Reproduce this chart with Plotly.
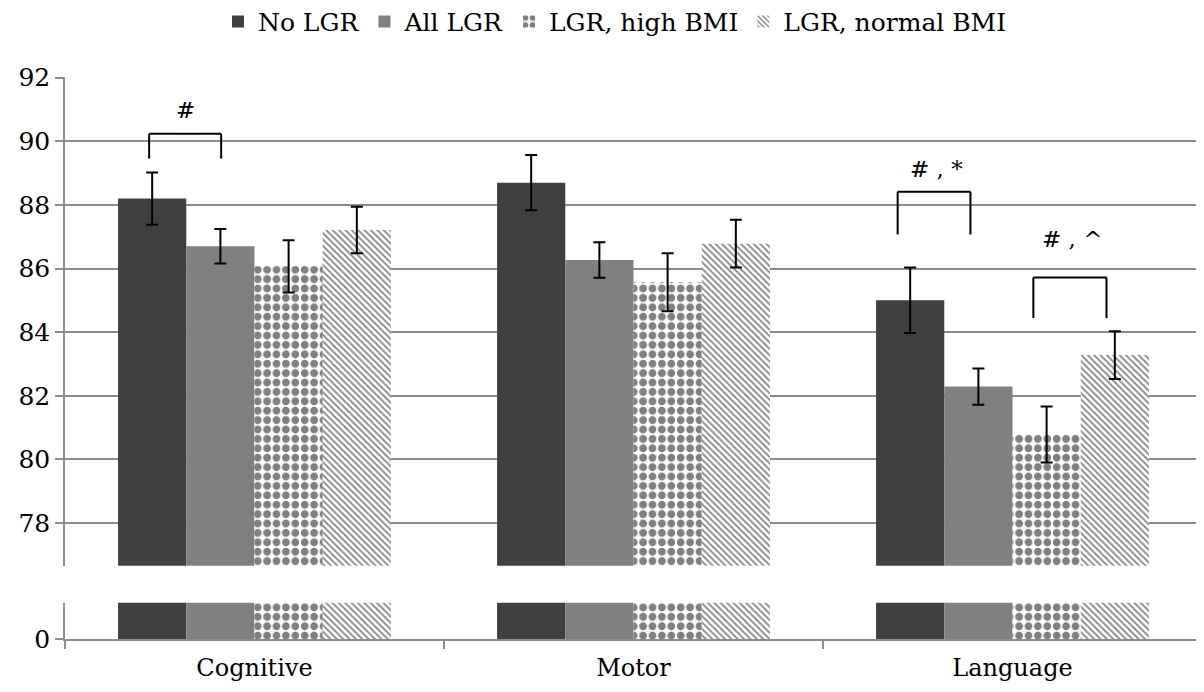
import plotly.graph_objects as go

# ---------------- data ----------------
categories = ["Cognitive", "Motor", "Language"]
series_names = ["No LGR", "All LGR", "LGR, high BMI", "LGR, normal BMI"]

no_lgr = [88.2, 88.7, 85.0]
no_lgr_err = [0.82, 0.87, 1.03]
all_lgr = [86.7, 86.27, 82.29]
all_lgr_err = [0.54, 0.56, 0.57]
high_bmi = [86.07, 85.57, 80.78]
high_bmi_err = [0.82, 0.91, 0.88]
normal_bmi = [87.21, 86.78, 83.28]
normal_bmi_err = [0.73, 0.75, 0.75]

upper_ticks = [78, 80, 82, 84, 86, 88, 90, 92]
lower_ticks = [0]

# significance brackets: (left x, right x, top, leg bottom, label, label x, label y)
brackets = [
    (-0.278, -0.088, 90.24, 89.46, "#", -0.183, 90.97),
    (1.697, 1.889, 88.41, 87.07, "# , *", 1.80, 89.12),
    (2.055, 2.248, 85.72, 84.44, "# , ^", 2.156, 86.92),
]

# ---------------- style ----------------
FONT = "DejaVu Serif"
GRID = "#8c8c8c"
values = [no_lgr, all_lgr, high_bmi, normal_bmi]
errors = [no_lgr_err, all_lgr_err, high_bmi_err, normal_bmi_err]
markers = [
    dict(color="#404040"),
    dict(color="#808080"),
    dict(color="white", pattern=dict(shape=".", fgcolor="#808080", bgcolor="white",
                                     size=9.4, solidity=0.55, fillmode="replace")),
    dict(color="white", pattern=dict(shape="\\", fgcolor="#8a8a8a", bgcolor="white",
                                     size=4.5, solidity=0.4, fillmode="replace")),
]

fig = go.Figure()

for name, v, e, m in zip(series_names, values, errors, markers):
    fig.add_trace(go.Bar(
        x=categories, y=v, name=name, marker=dict(**m, line=dict(width=0)),
        error_y=dict(type="data", array=e, color="black", thickness=2, width=6),
        xaxis="x", yaxis="y2", legendgroup=name,
    ))

for name, v, m in zip(series_names, values, markers):
    fig.add_trace(go.Bar(
        x=categories, y=v, name=name, marker=dict(**m, line=dict(width=0)),
        xaxis="x", yaxis="y", showlegend=False, legendgroup=name,
    ))

for x0, x1, top, bot, label, lx, ly in brackets:
    for (ax0, ay0, ax1, ay1) in [(x0, bot, x0, top), (x0, top, x1, top), (x1, top, x1, bot)]:
        fig.add_shape(type="line", xref="x", yref="y2", x0=ax0, y0=ay0, x1=ax1, y1=ay1,
                      line=dict(color="black", width=2))
    fig.add_annotation(x=lx, y=ly, xref="x", yref="y2", text=label, showarrow=False,
                       font=dict(family=FONT, size=23, color="black"))

# page has an 8px body margin: shrink the figure so it fits the 1204x692 window
OFF = 8
W, H = 1204 - OFF, 692 - OFF
left_px, right_px = 65 - OFF, 1202 - OFF
top_px, bottom_px = 77.3 - OFF, 639.3 - OFF
plot_h = bottom_px - top_px
plot_w = right_px - left_px
lower_top = (bottom_px - (603 - OFF)) / plot_h
upper_bot = (bottom_px - (566 - OFF)) / plot_h

fig.update_layout(
    width=W, height=H,
    margin=dict(l=left_px, r=W - right_px, t=top_px, b=H - bottom_px, autoexpand=False),
    paper_bgcolor="white", plot_bgcolor="white",
    barmode="group", bargap=0.28, bargroupgap=0,
    font=dict(family=FONT, size=25, color="black"),
    showlegend=True,
    legend=dict(orientation="h", x=((615 - OFF) - left_px) / plot_w, xanchor="center",
                y=1 + (top_px - (22 - OFF)) / plot_h,
                yanchor="middle", font=dict(family=FONT, size=25), itemwidth=30,
                traceorder="normal", bgcolor="rgba(0,0,0,0)"),
    xaxis=dict(type="category", categoryorder="array", categoryarray=categories,
               anchor="y", showline=True, linecolor=GRID, linewidth=1.5,
               ticks="outside", ticklen=8, tickcolor=GRID, tickwidth=1.5,
               tickson="boundaries", showgrid=False, zeroline=False,
               ticklabelstandoff=6,
               tickfont=dict(family=FONT, size=24)),
    yaxis=dict(domain=[0, lower_top], range=[0, 1], tickvals=lower_ticks,
               showline=True, linecolor=GRID, linewidth=1.5,
               ticks="outside", ticklen=8, tickcolor=GRID, tickwidth=1.5,
               showgrid=False, zeroline=False, tickfont=dict(family=FONT, size=25)),
    yaxis2=dict(domain=[upper_bot, 1], range=[76.66, 92.02], tickvals=upper_ticks,
                anchor="x", showline=True, linecolor=GRID, linewidth=1.5,
                ticks="outside", ticklen=8, tickcolor=GRID, tickwidth=1.5,
                showgrid=True, gridcolor=GRID, gridwidth=1.5, zeroline=False,
                tickfont=dict(family=FONT, size=25)),
)

fig.write_html("out.html")
